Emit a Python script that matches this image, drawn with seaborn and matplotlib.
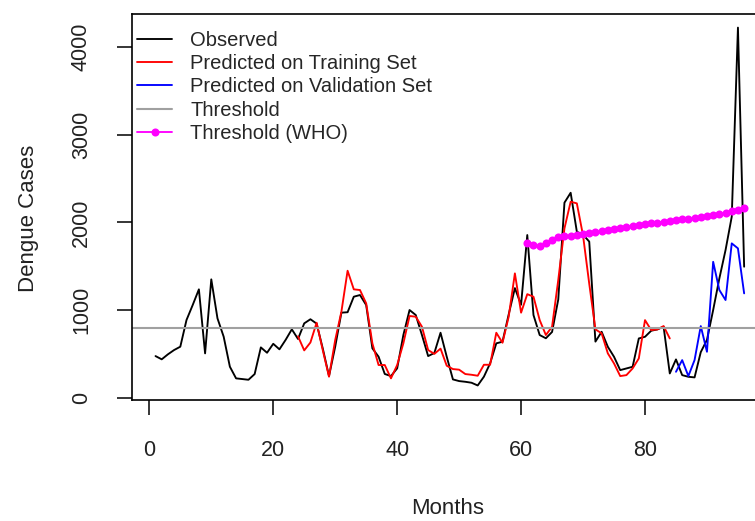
import numpy as np
import pandas as pd
import matplotlib
matplotlib.use("Agg")
import matplotlib.pyplot as plt
import seaborn as sns

# ---------------- data ----------------
months = list(range(1, 97))
observed = [475, 438, 495, 544, 582, 886, 1057, 1236, 506, 1350,
            905, 696, 354, 221, 213, 205, 270, 574, 513, 615,
            552, 660, 780, 670, 848, 895, 845, 560, 247, 582,
            970, 975, 1152, 1171, 1057, 563, 468, 271, 247, 335,
            715, 1000, 943, 715, 475, 510, 741, 468, 209, 190,
            182, 171, 140, 240, 392, 620, 639, 950, 1250, 1060,
            1855, 943, 715, 678, 750, 1120, 2224, 2337, 1893, 1860,
            1780, 640, 752, 581, 467, 315, 334, 353, 676, 695,
            764, 779, 810, 277, 437, 258, 239, 232, 520, 660,
            1000, 1360, 1684, 2064, 4220, 1494]

train_months = list(range(24, 85))
train_pred = [700, 540, 630, 855, 540, 240, 658, 981, 1448, 1236,
              1228, 1076, 620, 373, 373, 221, 373, 620, 932, 924,
              810, 544, 500, 560, 365, 327, 320, 270, 262, 251,
              376, 376, 741, 627, 924, 1418, 970, 1181, 1152, 886,
              715, 810, 1342, 1931, 2235, 2216, 1850, 1300, 780, 734,
              506, 391, 247, 258, 334, 448, 885, 771, 779, 817,
              676]

val_months = list(range(85, 97))
val_pred = [296, 429, 247, 430, 817, 524, 1550, 1228, 1114, 1760, 1703, 1190]

who_months = list(range(61, 97))
who_threshold = [1765, 1741, 1725, 1762, 1800, 1828, 1840, 1848, 1855, 1866,
                 1874, 1885, 1898, 1910, 1925, 1935, 1945, 1958, 1968, 1980,
                 1990, 1998, 2008, 2015, 2025, 2035, 2042, 2050, 2058, 2068,
                 2078, 2090, 2105, 2125, 2145, 2165]

threshold = 790

x_ticks = [0, 20, 40, 60, 80]
y_ticks = [0, 1000, 2000, 3000, 4000]

# ---------------- plot ----------------
sns.set_style("white")
plt.rcParams["font.family"] = ["Liberation Sans", "DejaVu Sans"]

fig = plt.figure(figsize=(7.55, 5.21), dpi=100)
ax = fig.add_axes([0.1748, 0.2322, 0.842, 0.7409])

lw = 1.35
sns.lineplot(x=months, y=observed, color="black", lw=lw, ax=ax, label="Observed")
sns.lineplot(x=train_months, y=train_pred, color="#ff0000", lw=lw, ax=ax,
             label="Predicted on Training Set")
sns.lineplot(x=val_months, y=val_pred, color="#0000ff", lw=lw, ax=ax,
             label="Predicted on Validation Set")
ax.axhline(threshold, color="#a0a0a0", lw=1.5, label="Threshold")
sns.lineplot(x=who_months, y=who_threshold, color="#ff00ff", lw=lw, ax=ax,
             marker="o", markersize=5.8, markeredgewidth=0,
             label="Threshold (WHO)")

ax.set_xlim(-2.8, 99.8)
ax.set_ylim(-26, 4375)
ax.set_xticks(x_ticks)
ax.set_yticks(y_ticks)
ax.tick_params(direction="out", length=10.8, width=1.1, pad=18,
               labelsize=15.5, color="black", labelcolor="#222222",
               left=True, bottom=True)
plt.setp(ax.get_yticklabels(), rotation=90, va="center")

for s in ax.spines.values():
    s.set_visible(True)
    s.set_color("black")
    s.set_linewidth(1.2)

ax.set_xlabel("Months", fontsize=16, color="#222222")
ax.xaxis.set_label_coords(0.497, -0.28)
ax.xaxis.label.set_va("center")
ax.set_ylabel("Dengue Cases", fontsize=16, color="#222222")
ax.yaxis.set_label_coords(-0.162, 0.47)
ax.yaxis.label.set_va("center")

ax.legend(loc="upper left", bbox_to_anchor=(0.008, 0.956), frameon=False,
          fontsize=14.5, handlelength=1.75, handletextpad=0.9,
          labelspacing=0.21, borderpad=0, borderaxespad=0)

fig.savefig("out.png", dpi=100)
